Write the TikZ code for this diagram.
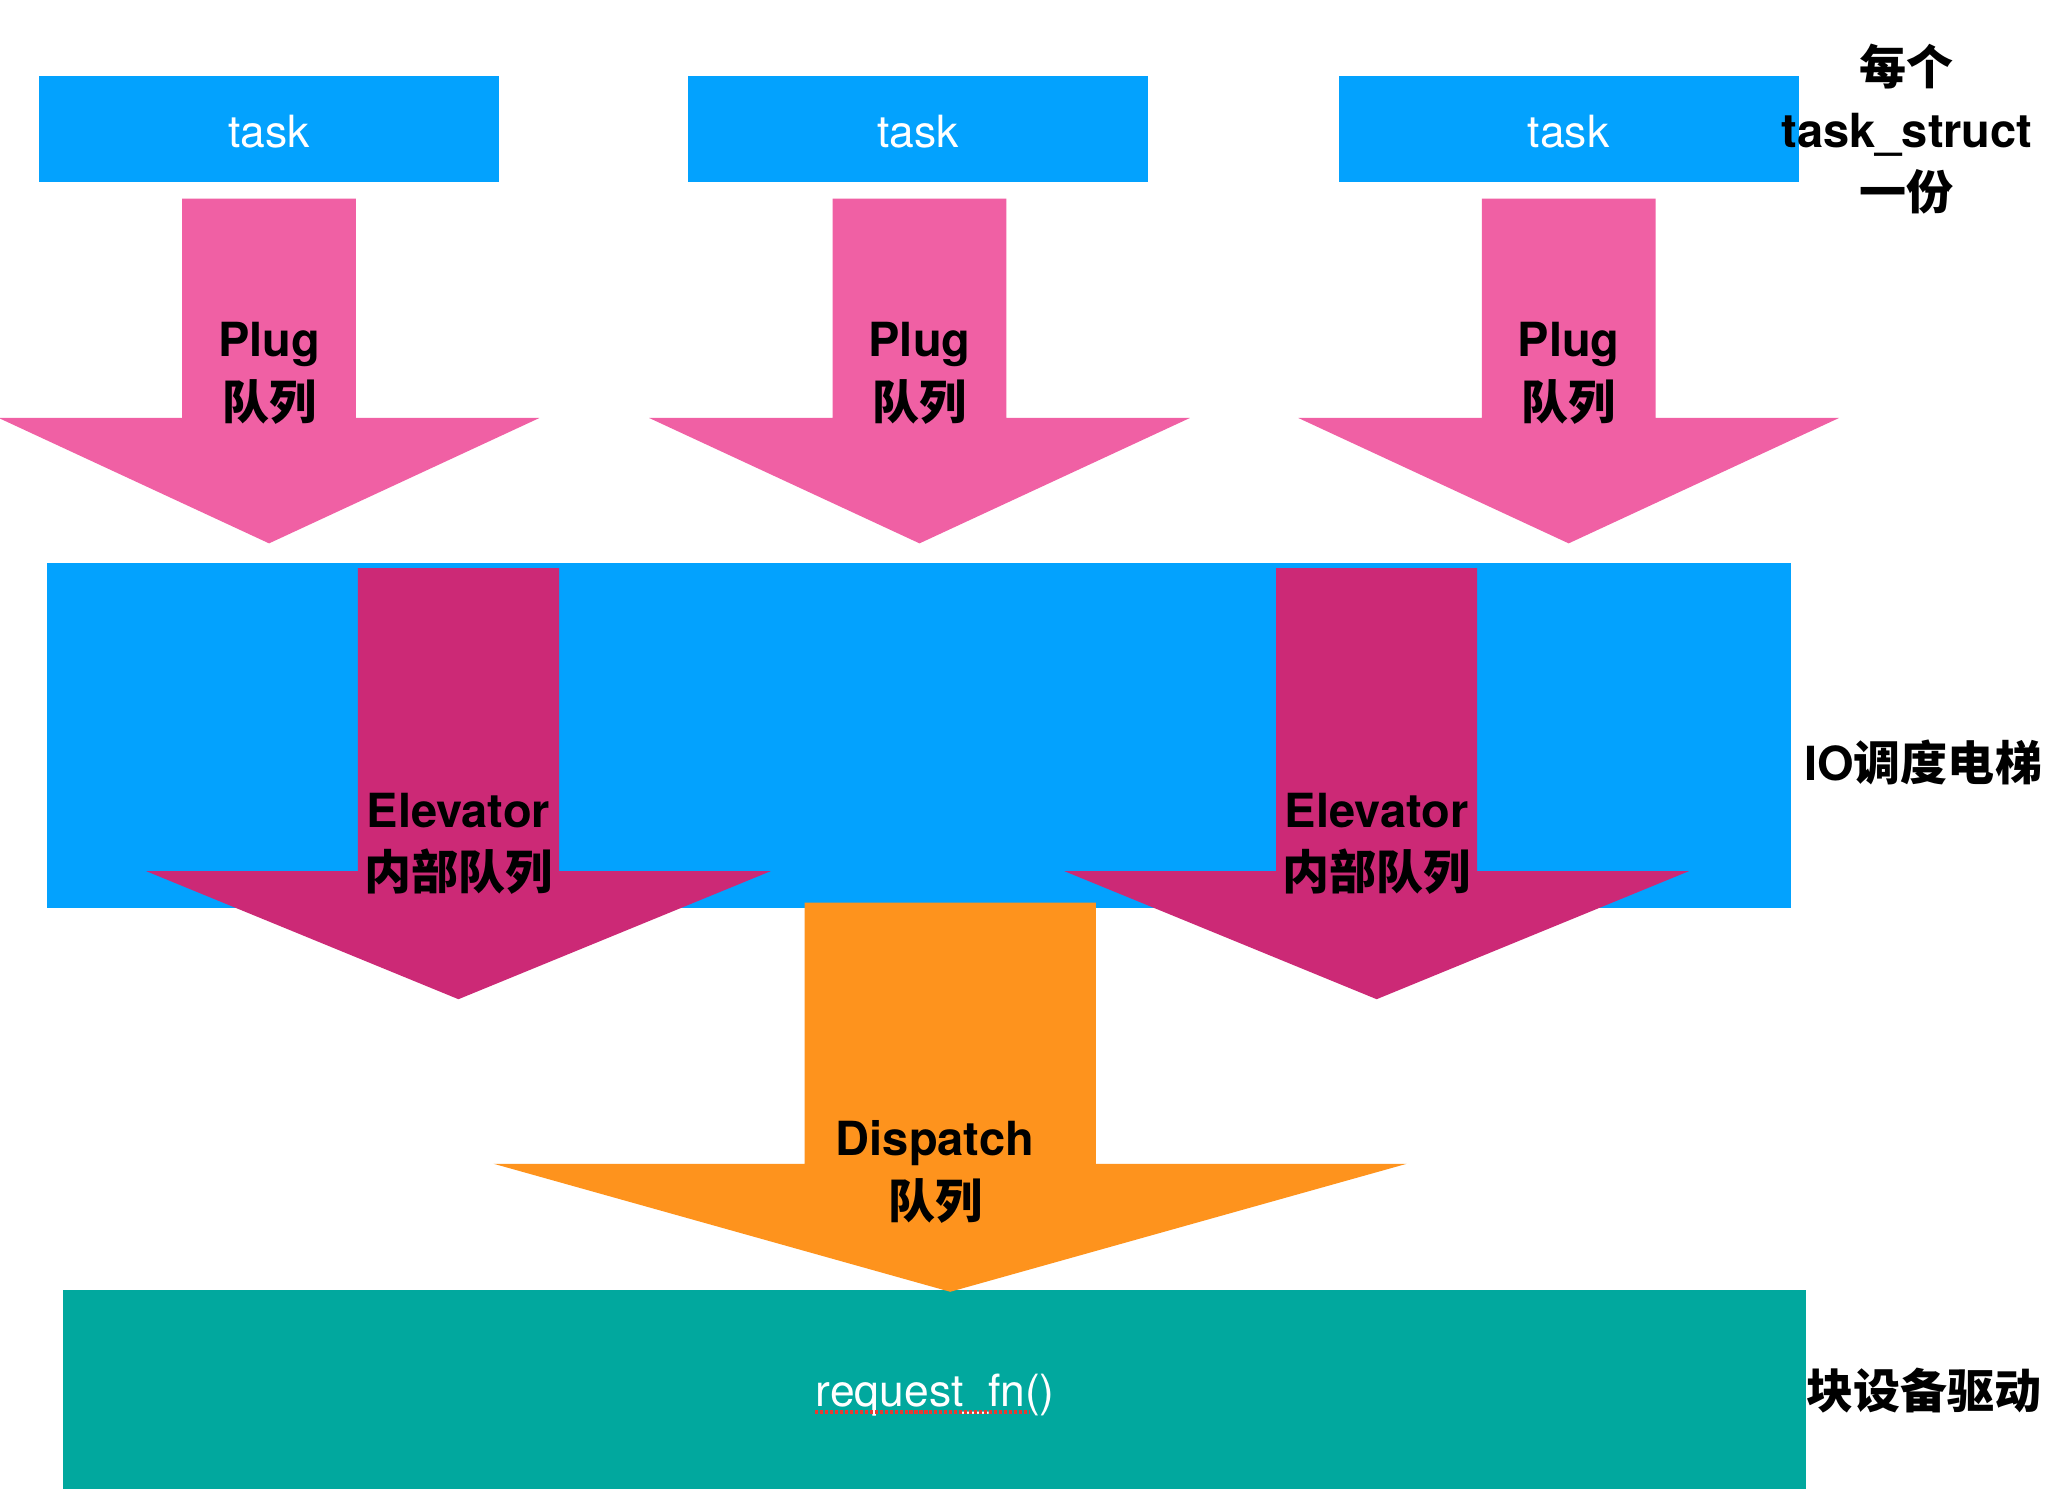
\documentclass[tikz,border=0pt]{standalone}
\usepackage{fontspec}
\setmainfont{TeX Gyre Heros}
\newfontfamily\cjk{Noto Sans CJK SC}
\definecolor{tblue}{RGB}{3,162,254}
\definecolor{plugpink}{RGB}{240,96,164}
\definecolor{elevmag}{RGB}{204,41,118}
\definecolor{disporange}{RGB}{254,147,29}
\definecolor{devteal}{RGB}{1,168,158}
\definecolor{spellred}{RGB}{230,60,50}
\tikzset{
  lab/.style={font=\fontsize{18}{24}\selectfont\bfseries, align=center, text=black, inner sep=0pt},
  sidelab/.style={font=\fontsize{18}{24}\selectfont\bfseries, align=center, text=black, inner sep=0pt},
  taskbox/.style={fill=tblue, text=white, minimum width=176pt, minimum height=40.5pt, inner sep=0pt,
    text height=14.3pt, text depth=0pt, font=\fontsize{17}{20}\selectfont},
  wtext/.style={text=white, inner sep=0pt, font=\fontsize{17}{20}\selectfont},
}
% block arrow: #1 colour, #2 centre x, #3 shaft half width, #4 shaft top, #5 head y, #6 head half width, #7 tip y
\newcommand\blockarrow[7]{%
  \fill[#1] (#2-#3,#4) -- (#2+#3,#4) -- (#2+#3,#5) -- (#2+#6,#5) -- (#2,#7)
    -- (#2-#6,#5) -- (#2-#3,#5) -- cycle;}
\begin{document}
\begin{tikzpicture}[x=0.5pt,y=-0.5pt]
\useasboundingbox (0,0) rectangle (1568,1153);
\fill[white] (0,0) rectangle (1568,1153);

% task boxes
\node[taskbox] (task1) at (206,98.5) {task};
\node[taskbox] (task2) at (703,98.5) {task};
\node[taskbox] (task3) at (1201,98.5) {task};
\node[sidelab] (pertask) at (1460,99) {{\cjk 每个}\\task\_struct\\{\cjk 一份}};

% plug arrows
\blockarrow{plugpink}{206}{66.5}{152}{320}{207}{416}
\blockarrow{plugpink}{704}{66.5}{152}{320}{207}{416}
\blockarrow{plugpink}{1201}{66.5}{152}{320}{207}{416}
\node[lab] (plug1) at (206,286) {Plug\\{\cjk 队列}};
\node[lab] (plug2) at (704,286) {Plug\\{\cjk 队列}};
\node[lab] (plug3) at (1201,286) {Plug\\{\cjk 队列}};

% IO scheduler box
\fill[tblue] (36,431) rectangle (1371,695);
\node[lab, anchor=west] (iosched) at (1381,584) {IO{\cjk 调度电梯}};

% elevator arrows
\blockarrow{elevmag}{351}{77}{435}{667}{239}{765}
\blockarrow{elevmag}{1054}{77}{435}{667}{239}{765}
\node[lab] (elev1) at (351,646) {Elevator\\{\cjk 内部队列}};
\node[lab] (elev2) at (1054,646) {Elevator\\{\cjk 内部队列}};

% block device driver
\fill[devteal] (48,988) rectangle (1383,1140);
\node[wtext, anchor=base] (rq) at (716,1077) {request\_fn()};
\draw[spellred, line width=1.4pt, dash pattern=on 1.2pt off 0.7pt]
  ([yshift=-2pt]rq.base west) -- ([yshift=-2pt, xshift=-10pt]rq.base east);
\node[lab, anchor=west] (blkdrv) at (1383,1065) {{\cjk 块设备驱动}};

% dispatch arrow
\blockarrow{disporange}{727.5}{111.5}{691}{891}{349.5}{989}
\node[lab] (disp) at (716,897) {Dispatch\\{\cjk 队列}};
\end{tikzpicture}
\end{document}
